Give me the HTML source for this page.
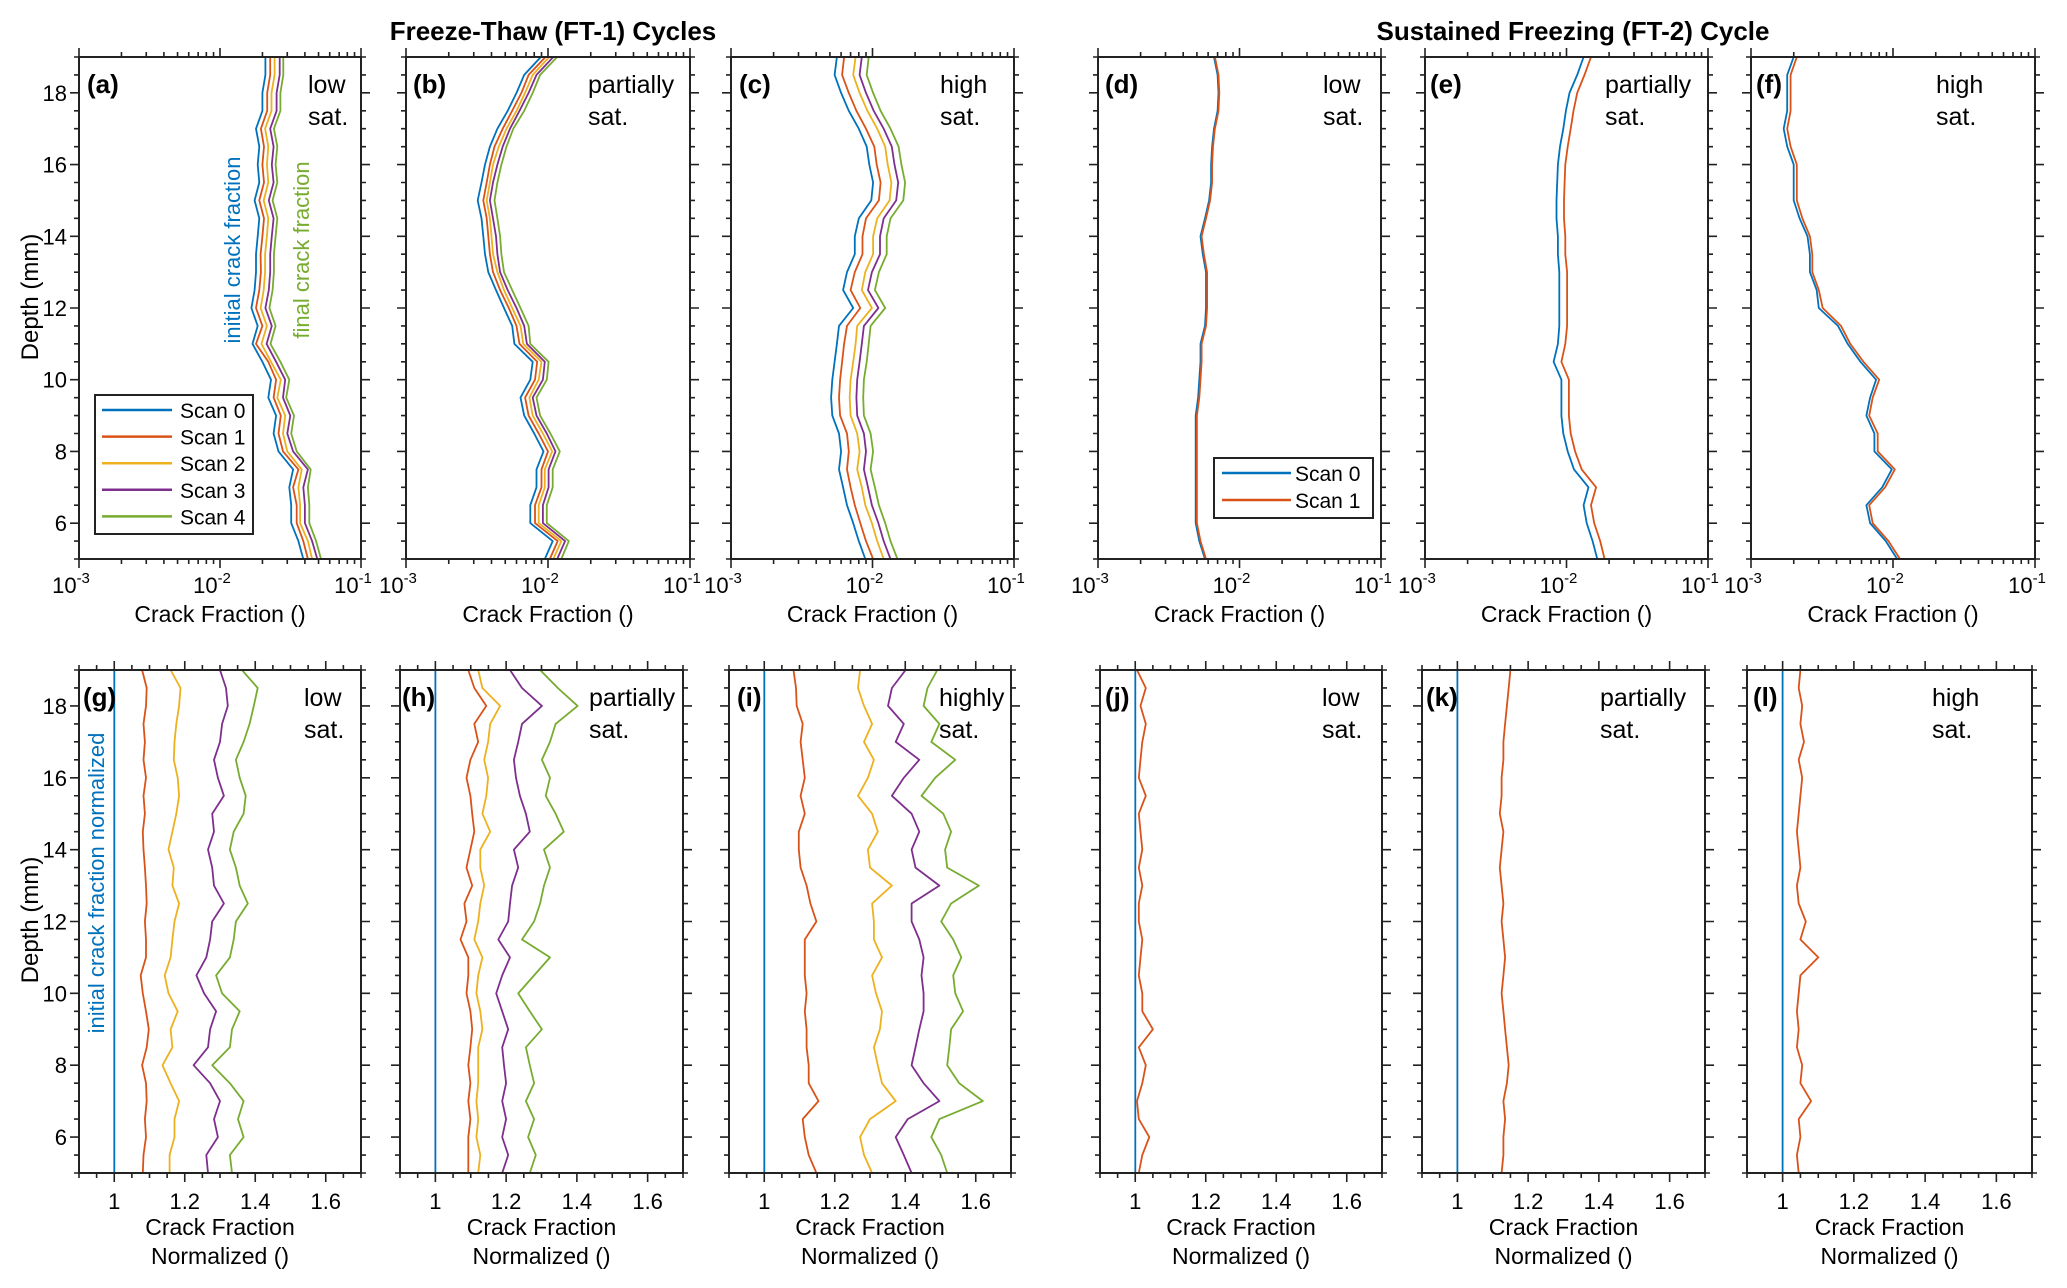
<!DOCTYPE html>
<html><head><meta charset="utf-8"><style>
html,body{margin:0;padding:0;background:#fff;}
svg{display:block;font-family:"Liberation Sans",Arial,sans-serif;}
</style></head><body>
<svg id="fig" xmlns="http://www.w3.org/2000/svg" width="2067" height="1288" viewBox="0 0 2067 1288">
<rect x="0" y="0" width="2067" height="1288" fill="#fff"/>
<text x="553" y="40" font-size="26" font-weight="bold" text-anchor="middle">Freeze-Thaw (FT-1) Cycles</text>
<text x="1573" y="40" font-size="26" font-weight="bold" text-anchor="middle">Sustained Freezing (FT-2) Cycle</text>
<text transform="translate(38,297) rotate(-90)" font-size="24" text-anchor="middle">Depth (mm)</text>
<text transform="translate(38,920) rotate(-90)" font-size="24" text-anchor="middle">Depth (mm)</text>
<g id="plots"></g>
</svg>
<script>
const depth=[5,5.5,6,6.5,7,7.5,8,8.5,9,9.5,10,10.5,11,11.5,12,12.5,13,13.5,14,14.5,15,15.5,16,16.5,17,17.5,18,18.5,19];
const seriesNames=["Scan 0","Scan 1","Scan 2","Scan 3","Scan 4"];
const xTickLog=["10","10","10"];
const xTickLogExp=["-3","-2","-1"];
const xTickLin=[1,1.2,1.4,1.6];
const yTicks=[6,8,10,12,14,16,18];
// (a) low sat FT-1
const a_s0=[0.039,0.036,0.032,0.032,0.031,0.033,0.026,0.024,0.025,0.022,0.023,0.020,0.017,0.0185,0.0167,0.0176,0.018,0.018,0.0185,0.019,0.0176,0.019,0.0185,0.019,0.018,0.020,0.020,0.021,0.021];
const a_s1=[0.042,0.039,0.035,0.035,0.033,0.036,0.028,0.026,0.027,0.024,0.025,0.022,0.018,0.020,0.018,0.019,0.0195,0.0194,0.020,0.0205,0.019,0.0205,0.020,0.0205,0.0195,0.0216,0.0216,0.0227,0.0227];
const a_s2=[0.045,0.042,0.037,0.037,0.036,0.038,0.030,0.028,0.029,0.0255,0.027,0.023,0.0197,0.0215,0.0194,0.0204,0.0209,0.0209,0.0215,0.022,0.0204,0.022,0.0215,0.022,0.0209,0.0232,0.0232,0.0244,0.0244];
const a_s3=[0.049,0.045,0.040,0.040,0.039,0.042,0.033,0.030,0.0315,0.028,0.029,0.025,0.0214,0.0233,0.021,0.0222,0.0227,0.0227,0.0233,0.024,0.0222,0.024,0.0233,0.024,0.0227,0.0252,0.0252,0.0265,0.0265];
const a_s4=[0.052,0.048,0.043,0.043,0.042,0.044,0.035,0.032,0.0335,0.0295,0.031,0.0268,0.0228,0.0248,0.0224,0.0236,0.0241,0.0241,0.0248,0.0255,0.0236,0.0255,0.0248,0.0255,0.0241,0.0268,0.0268,0.0281,0.0281];
// (b)
const b_s0=[0.0095,0.0108,0.0075,0.0075,0.0083,0.0083,0.0093,0.008,0.0068,0.0064,0.0075,0.0078,0.0058,0.0056,0.0049,0.0043,0.0038,0.0036,0.0035,0.0034,0.0032,0.0034,0.0036,0.0039,0.0044,0.0052,0.006,0.0068,0.0089];
const b_s1=[0.0103,0.0117,0.0081,0.0081,0.009,0.009,0.010,0.0086,0.0073,0.0069,0.0081,0.0084,0.0063,0.006,0.0053,0.0046,0.0041,0.0039,0.0038,0.0037,0.0035,0.0037,0.0039,0.0042,0.0048,0.0056,0.0065,0.0073,0.0096];
const b_s2=[0.0109,0.0124,0.0086,0.0086,0.0095,0.0095,0.0107,0.0092,0.0078,0.0074,0.0086,0.009,0.0067,0.0064,0.0056,0.0049,0.0044,0.0041,0.004,0.0039,0.0037,0.0039,0.0041,0.0045,0.0051,0.006,0.0069,0.0078,0.0102];
const b_s3=[0.0116,0.0132,0.0092,0.0092,0.0101,0.0101,0.0113,0.0098,0.0083,0.0078,0.0092,0.0095,0.0071,0.0068,0.006,0.0052,0.0046,0.0044,0.0043,0.0041,0.0039,0.0041,0.0044,0.0048,0.0054,0.0063,0.0073,0.0083,0.0109];
const b_s4=[0.0124,0.014,0.0098,0.0098,0.0108,0.0108,0.0121,0.0104,0.0088,0.0083,0.0098,0.0101,0.0075,0.0073,0.0064,0.0056,0.0049,0.0047,0.0046,0.0044,0.0042,0.0044,0.0047,0.0051,0.0057,0.0068,0.0078,0.0088,0.0116];
// (c)
const c_s0=[0.0089,0.008,0.0073,0.0066,0.0062,0.0058,0.006,0.0058,0.0052,0.0051,0.0052,0.0054,0.0056,0.0058,0.0073,0.0062,0.0066,0.0075,0.0075,0.008,0.0098,0.0101,0.0095,0.0091,0.008,0.0068,0.006,0.0054,0.0056];
const c_s1=[0.0101,0.009,0.0082,0.0075,0.007,0.0066,0.0068,0.0066,0.0059,0.0058,0.0059,0.0061,0.0063,0.0066,0.0082,0.007,0.0075,0.0085,0.0085,0.009,0.0111,0.0114,0.0107,0.0103,0.009,0.0077,0.0068,0.0061,0.0063];
const c_s2=[0.012,0.0108,0.0099,0.0089,0.0084,0.0078,0.0081,0.0078,0.007,0.0069,0.007,0.0073,0.0076,0.0078,0.0099,0.0084,0.0089,0.0101,0.0101,0.0108,0.0132,0.0136,0.0128,0.0123,0.0108,0.0092,0.0081,0.0073,0.0076];
const c_s3=[0.0134,0.012,0.011,0.0099,0.0093,0.0087,0.009,0.0087,0.0078,0.0077,0.0078,0.0081,0.0084,0.0087,0.011,0.0093,0.0099,0.0113,0.0113,0.012,0.0147,0.0152,0.0143,0.0137,0.012,0.0102,0.009,0.0081,0.0084];
const c_s4=[0.015,0.0134,0.0123,0.0111,0.0104,0.0097,0.0101,0.0097,0.0087,0.0086,0.0087,0.0091,0.0094,0.0097,0.0123,0.0104,0.0111,0.0126,0.0126,0.0134,0.0165,0.017,0.016,0.0153,0.0134,0.0114,0.0101,0.0091,0.0094];
// (d)
const d_s0=[0.0057,0.0052,0.0049,0.0049,0.0049,0.0049,0.0049,0.0049,0.0049,0.0051,0.0052,0.0053,0.0053,0.0057,0.0058,0.0058,0.0058,0.0055,0.0053,0.0057,0.0061,0.0063,0.0063,0.0064,0.0066,0.007,0.0071,0.007,0.0066];
const d_s1=[0.0058,0.0053,0.005,0.005,0.005,0.005,0.005,0.005,0.005,0.0052,0.0053,0.0054,0.0054,0.0058,0.0059,0.0059,0.0059,0.0056,0.0054,0.0058,0.0062,0.0064,0.0064,0.0065,0.0067,0.0071,0.0072,0.0071,0.0067];
// (e)
const e_s0=[0.0165,0.0153,0.0139,0.0132,0.0143,0.0113,0.0102,0.0095,0.0092,0.0092,0.0092,0.0081,0.0087,0.0089,0.0089,0.0089,0.0089,0.0087,0.0087,0.0085,0.0085,0.0086,0.0087,0.009,0.0095,0.0099,0.0105,0.0119,0.0132];
const e_s1=[0.0186,0.0173,0.0157,0.0149,0.0162,0.0128,0.0115,0.0107,0.0104,0.0104,0.0104,0.0092,0.0098,0.0101,0.0101,0.0101,0.0101,0.0098,0.0098,0.0096,0.0096,0.0097,0.0098,0.0102,0.0107,0.0112,0.0119,0.0134,0.0149];
// (f)
const f_s0=[0.0107,0.0089,0.0069,0.0065,0.0084,0.0098,0.0074,0.0074,0.0065,0.0069,0.0076,0.0059,0.0048,0.0041,0.003,0.0029,0.0026,0.0026,0.0025,0.0022,0.002,0.002,0.002,0.0018,0.0017,0.0018,0.0018,0.0018,0.002];
const f_s1=[0.0112,0.0093,0.0072,0.0068,0.0088,0.0103,0.0078,0.0078,0.0068,0.0072,0.008,0.0062,0.005,0.0043,0.0032,0.003,0.0027,0.0027,0.0026,0.0023,0.0021,0.0021,0.0021,0.0019,0.0018,0.0019,0.0019,0.0019,0.0021];
// (g)-(l) normalized
const g_s0=[1,1,1,1,1,1,1,1,1,1,1,1,1,1,1,1,1,1,1,1,1,1,1,1,1,1,1,1,1];
const g_s1=[1.081,1.083,1.090,1.087,1.092,1.090,1.079,1.092,1.098,1.090,1.081,1.075,1.090,1.090,1.087,1.092,1.090,1.087,1.083,1.081,1.087,1.083,1.090,1.083,1.087,1.083,1.090,1.092,1.079];
const g_s2=[1.157,1.157,1.171,1.171,1.184,1.160,1.137,1.165,1.160,1.180,1.154,1.143,1.160,1.165,1.171,1.184,1.165,1.169,1.154,1.165,1.176,1.184,1.180,1.169,1.171,1.176,1.184,1.188,1.160];
const g_s3=[1.266,1.261,1.294,1.283,1.300,1.272,1.225,1.266,1.272,1.289,1.255,1.233,1.261,1.272,1.278,1.311,1.283,1.278,1.266,1.283,1.278,1.311,1.294,1.283,1.300,1.306,1.322,1.317,1.300];
const g_s4=[1.334,1.328,1.367,1.351,1.367,1.328,1.278,1.328,1.334,1.356,1.306,1.289,1.328,1.339,1.345,1.379,1.356,1.345,1.328,1.339,1.367,1.373,1.356,1.345,1.367,1.384,1.396,1.407,1.362];
const h_s0=[1,1,1,1,1,1,1,1,1,1,1,1,1,1,1,1,1,1,1,1,1,1,1,1,1,1,1,1,1];
const h_s1=[1.093,1.093,1.093,1.099,1.093,1.099,1.093,1.099,1.104,1.099,1.088,1.093,1.093,1.071,1.088,1.082,1.104,1.088,1.099,1.110,1.104,1.099,1.088,1.099,1.121,1.110,1.144,1.110,1.093];
const h_s2=[1.121,1.127,1.116,1.121,1.116,1.121,1.121,1.121,1.133,1.127,1.116,1.121,1.133,1.110,1.121,1.127,1.138,1.127,1.127,1.155,1.133,1.144,1.149,1.138,1.149,1.155,1.183,1.133,1.121];
const h_s3=[1.189,1.206,1.189,1.200,1.189,1.200,1.194,1.189,1.206,1.189,1.172,1.189,1.211,1.178,1.206,1.211,1.217,1.234,1.222,1.267,1.256,1.239,1.228,1.222,1.234,1.245,1.301,1.245,1.211];
const h_s4=[1.267,1.284,1.262,1.279,1.256,1.279,1.267,1.256,1.301,1.267,1.234,1.279,1.324,1.245,1.279,1.296,1.307,1.324,1.307,1.363,1.340,1.312,1.324,1.301,1.324,1.340,1.402,1.346,1.296];
const i_s0=[1,1,1,1,1,1,1,1,1,1,1,1,1,1,1,1,1,1,1,1,1,1,1,1,1,1,1,1,1];
const i_s1=[1.148,1.126,1.115,1.109,1.154,1.126,1.126,1.120,1.120,1.115,1.120,1.115,1.115,1.115,1.148,1.131,1.120,1.103,1.098,1.098,1.115,1.103,1.115,1.109,1.103,1.109,1.092,1.090,1.083];
const i_s2=[1.306,1.283,1.272,1.300,1.373,1.334,1.322,1.311,1.328,1.334,1.317,1.306,1.334,1.311,1.311,1.306,1.362,1.300,1.294,1.322,1.306,1.266,1.294,1.311,1.283,1.306,1.283,1.266,1.272];
const i_s3=[1.418,1.396,1.373,1.407,1.497,1.452,1.418,1.429,1.440,1.452,1.452,1.446,1.452,1.440,1.418,1.418,1.497,1.429,1.418,1.440,1.418,1.362,1.396,1.440,1.373,1.396,1.351,1.362,1.401];
const i_s4=[1.519,1.502,1.474,1.497,1.620,1.553,1.519,1.525,1.530,1.564,1.542,1.536,1.559,1.536,1.502,1.530,1.609,1.519,1.513,1.530,1.508,1.446,1.485,1.542,1.474,1.497,1.452,1.463,1.491];
const j_s0=[1,1,1,1,1,1,1,1,1,1,1,1,1,1,1,1,1,1,1,1,1,1,1,1,1,1,1,1,1];
const j_s1=[1.01,1.02,1.04,1.01,1.005,1.02,1.03,1.01,1.05,1.02,1.02,1.01,1.015,1.02,1.01,1.01,1.02,1.01,1.02,1.015,1.01,1.03,1.01,1.015,1.02,1.03,1.015,1.03,1.005];
const k_s0=[1,1,1,1,1,1,1,1,1,1,1,1,1,1,1,1,1,1,1,1,1,1,1,1,1,1,1,1,1];
const k_s1=[1.125,1.13,1.13,1.135,1.13,1.14,1.145,1.14,1.135,1.13,1.125,1.13,1.135,1.13,1.125,1.13,1.125,1.12,1.125,1.13,1.12,1.125,1.125,1.13,1.13,1.135,1.14,1.145,1.15];
const l_s0=[1,1,1,1,1,1,1,1,1,1,1,1,1,1,1,1,1,1,1,1,1,1,1,1,1,1,1,1,1];
const l_s1=[1.045,1.04,1.05,1.045,1.08,1.05,1.055,1.04,1.045,1.04,1.045,1.05,1.10,1.05,1.065,1.045,1.04,1.05,1.045,1.04,1.045,1.05,1.055,1.045,1.06,1.05,1.055,1.045,1.05];

const COLORS=["#0072BD","#D95319","#EDB120","#7E2F8E","#77AC30"];
const NS="http://www.w3.org/2000/svg";
const root=document.getElementById("plots");
function mk(tag,attrs,parent){const e=document.createElementNS(NS,tag);for(const k in attrs)e.setAttribute(k,attrs[k]);(parent||root).appendChild(e);return e;}

const panels=[
 {id:"a",type:"log",x0:79,x1:361,y0:57,y1:559,series:[a_s0,a_s1,a_s2,a_s3,a_s4],t1:"low",t2:"sat.",tx:308,lx:87},
 {id:"b",type:"log",x0:406,x1:690,y0:57,y1:559,series:[b_s0,b_s1,b_s2,b_s3,b_s4],t1:"partially",t2:"sat.",tx:588,lx:413},
 {id:"c",type:"log",x0:731,x1:1014,y0:57,y1:559,series:[c_s0,c_s1,c_s2,c_s3,c_s4],t1:"high",t2:"sat.",tx:940,lx:739},
 {id:"d",type:"log",x0:1098,x1:1381,y0:57,y1:559,series:[d_s0,d_s1],t1:"low",t2:"sat.",tx:1323,lx:1105},
 {id:"e",type:"log",x0:1425,x1:1708,y0:57,y1:559,series:[e_s0,e_s1],t1:"partially",t2:"sat.",tx:1605,lx:1430},
 {id:"f",type:"log",x0:1751,x1:2035,y0:57,y1:559,series:[f_s0,f_s1],t1:"high",t2:"sat.",tx:1936,lx:1756},
 {id:"g",type:"lin",x0:79,x1:361,y0:670,y1:1173,series:[g_s0,g_s1,g_s2,g_s3,g_s4],t1:"low",t2:"sat.",tx:304,lx:83},
 {id:"h",type:"lin",x0:400,x1:683,y0:670,y1:1173,series:[h_s0,h_s1,h_s2,h_s3,h_s4],t1:"partially",t2:"sat.",tx:589,lx:402},
 {id:"i",type:"lin",x0:729,x1:1011,y0:670,y1:1173,series:[i_s0,i_s1,i_s2,i_s3,i_s4],t1:"highly",t2:"sat.",tx:939,lx:737},
 {id:"j",type:"lin",x0:1100,x1:1382,y0:670,y1:1173,series:[j_s0,j_s1],t1:"low",t2:"sat.",tx:1322,lx:1105},
 {id:"k",type:"lin",x0:1422,x1:1705,y0:670,y1:1173,series:[k_s0,k_s1],t1:"partially",t2:"sat.",tx:1600,lx:1426},
 {id:"l",type:"lin",x0:1747,x1:2032,y0:670,y1:1173,series:[l_s0,l_s1],t1:"high",t2:"sat.",tx:1932,lx:1753}
];
function xs(p,v){ if(p.type==="log") return p.x0+(Math.log10(v)+3)/2*(p.x1-p.x0); return p.x0+(v-0.9)/0.8*(p.x1-p.x0);}
function ys(p,d){ return p.y1-(d-5)/14*(p.y1-p.y0);}

panels.forEach(function(p){
  const g=mk("g",{});
  
  
  p.series.forEach(function(arr,si){
    let pts=[];
    for(let k=0;k<depth.length;k++){pts.push(xs(p,arr[k]).toFixed(1)+","+ys(p,depth[k]).toFixed(1));}
    const pl=mk("polyline",{points:pts.join(" "),fill:"none",stroke:COLORS[si],"stroke-width":1.8,"stroke-linejoin":"round"},g);
    
    
  });
  const fr=mk("rect",{x:p.x0,y:p.y0,width:p.x1-p.x0,height:p.y1-p.y0,fill:"none",stroke:"#222","stroke-width":2},g);
  
  
  let tk="";
  for(let d=5;d<=19.001;d+=0.5){
    const y=ys(p,d);const major=(Math.abs(d%2)<0.01)&&d>=6;
    const L=major?9:5;
    tk+="M"+p.x0+","+y+"h"+(-L)+"M"+p.x1+","+y+"h"+L;
  }
  if(p.type==="log"){
    for(let e=-3;e<=-1;e++){
      for(let m=1;m<=9;m++){
        if(e===-1&&m>1)break;
        const v=m*Math.pow(10,e);const x=xs(p,v);const L=(m===1)?9:5;
        tk+="M"+x+","+p.y1+"v"+L+"M"+x+","+p.y0+"v"+(-L);
      }
    }
  } else {
    for(let v=0.9;v<=1.7001;v+=0.05){
      const x=xs(p,v);const major=Math.abs(((v+0.0001)*10)%2-0)<0.01;
      const L=major?9:5;
      tk+="M"+x+","+p.y1+"v"+L+"M"+x+","+p.y0+"v"+(-L);
    }
  }
  const tp=mk("path",{d:tk,stroke:"#222","stroke-width":1.6,fill:"none"},g);
  
  
  if(p.id==="a"||p.id==="g"){
    yTicks.forEach(function(t){
      const tx=mk("text",{x:p.x0-12,y:ys(p,t)+8,"font-size":22,"text-anchor":"end"},g);
      tx.textContent=t;
      
      
    });
  }
  if(p.type==="log"){
    xTickLog.forEach(function(b,ii){
      const x=xs(p,Math.pow(10,ii-3));
      const tx=mk("text",{x:x-8,y:p.y1+34,"font-size":22,"text-anchor":"middle"},g);
      tx.textContent=b;
      const sp=mk("tspan",{dy:-10,"font-size":15},tx);
      sp.textContent=xTickLogExp[ii];
      
      
    });
    const xl=mk("text",{x:(p.x0+p.x1)/2,y:p.y1+63,"font-size":23,"text-anchor":"middle"},g);
    xl.textContent="Crack Fraction ()";
    
    
  } else {
    xTickLin.forEach(function(v){
      const tx=mk("text",{x:xs(p,v),y:p.y1+36,"font-size":22,"text-anchor":"middle"},g);
      tx.textContent=v;
      
      
    });
    const xl=mk("text",{x:(p.x0+p.x1)/2,y:p.y1+62,"font-size":23,"text-anchor":"middle"},g);
    xl.textContent="Crack Fraction";
    
    
    const xl2=mk("text",{x:(p.x0+p.x1)/2,y:p.y1+91,"font-size":23,"text-anchor":"middle"},g);
    xl2.textContent="Normalized ()";
    
    
  }
  const pl=mk("text",{x:p.lx,y:p.y0+36,"font-size":26,"font-weight":"bold"},g);
  pl.textContent="("+p.id+")";
  
  
  const t1=mk("text",{x:p.tx,y:p.y0+36,"font-size":25},g);
  t1.textContent=p.t1;
  
  
  const t2=mk("text",{x:p.tx,y:p.y0+68,"font-size":25},g);
  t2.textContent=p.t2;
  
  
});

const an1=mk("text",{transform:"translate(240,250) rotate(-90)","font-size":22,"text-anchor":"middle",fill:"#0072BD"});
an1.textContent="initial crack fraction";


const an2=mk("text",{transform:"translate(309,250) rotate(-90)","font-size":22,"text-anchor":"middle",fill:"#77AC30"});
an2.textContent="final crack fraction";


const an3=mk("text",{transform:"translate(104,883) rotate(-90)","font-size":22,"text-anchor":"middle",fill:"#0072BD"});
an3.textContent="initial crack fraction normalized";



const lg=mk("g",{});


mk("rect",{x:95,y:395,width:158,height:139,fill:"#fff",stroke:"#222","stroke-width":2},lg);
seriesNames.forEach(function(n,ii){
  const y=410+ii*26.6;
  const ln=mk("line",{x1:102,x2:172,y1:y,y2:y,stroke:COLORS[ii],"stroke-width":2.5},lg);
  
  
  const tx=mk("text",{x:180,y:y+8,"font-size":21},lg);
  tx.textContent=n;
  
  
});
const lg2=mk("g",{});


mk("rect",{x:1214,y:458,width:159,height:60,fill:"#fff",stroke:"#222","stroke-width":2},lg2);
[0,1].forEach(function(ii){
  const y=473+ii*27;
  const ln=mk("line",{x1:1222,x2:1291,y1:y,y2:y,stroke:COLORS[ii],"stroke-width":2.5},lg2);
  
  
  const tx=mk("text",{x:1295,y:y+8,"font-size":21},lg2);
  tx.textContent=seriesNames[ii];
  
  
});
</script>
</body></html>
